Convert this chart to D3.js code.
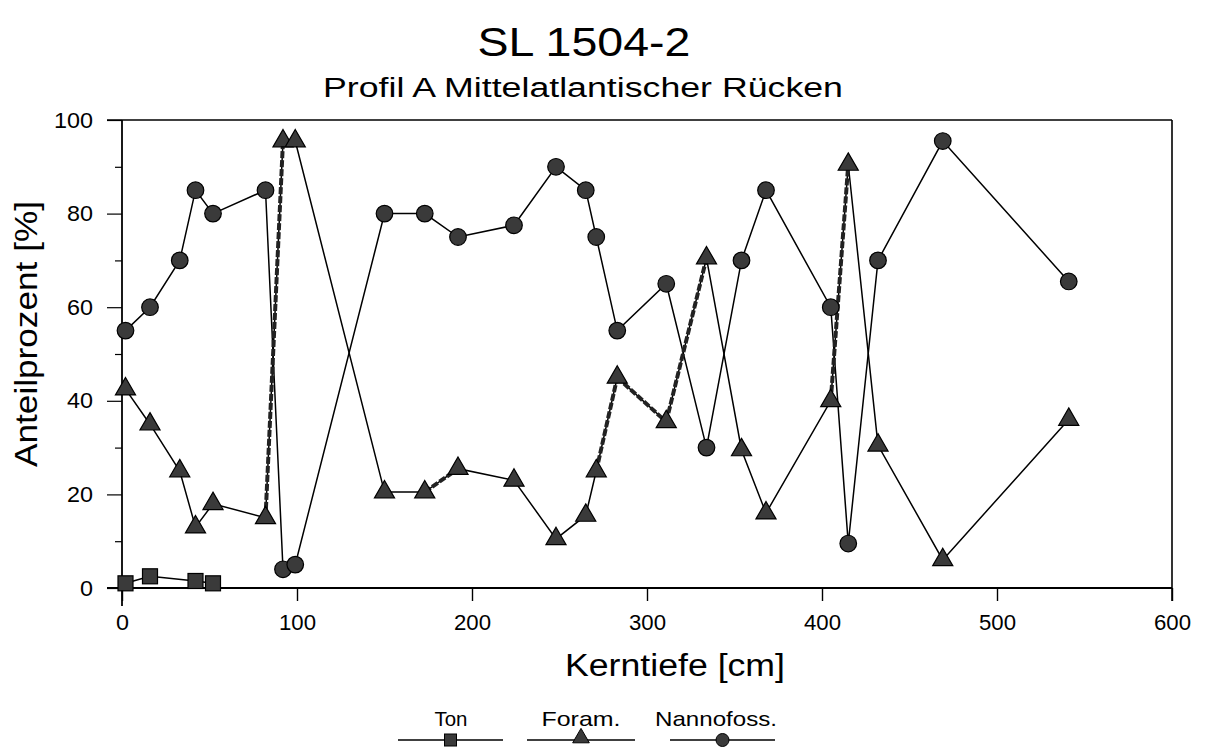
<!DOCTYPE html>
<html><head><meta charset="utf-8">
<script src="https://cdn.jsdelivr.net/npm/d3@7"></script>
<style>
html,body{margin:0;padding:0;background:#fff;}
svg{display:block;font-family:"Liberation Sans",Arial,Helvetica,sans-serif;}
</style></head>
<body>
<svg id="chart" width="1205" height="748"></svg>
<script>
// ---- data ----
const depth = [2,16,33,42,52,82,92,99,150,173,192,224,248,265,271,283,311,334,354,368,405,415,432,469,541];
const nanno = [55,60,70,85,80,85,4,5,80,80,75,77.5,90,85,75,55,65,30,70,85,60,9.5,70,95.5,65.5];
const foram = [42.5,35,25,13,18,15,95.5,95.5,20.5,20.5,25.5,23,10.5,15.5,25,45,35.5,70.5,29.5,16,40,90.5,30.5,6,36];
const tonDepth = [2,16,42,52];
const ton = [1,2.5,1.5,1];
// foram segments drawn heavy dashed (start index)
const foramHeavy = [5,9,14,15,16,20];
const xTicks = [0,100,200,300,400,500,600];
const yTicks = [0,20,40,60,80,100];
const yMinor = [10,30,50,70,90];
const legendNames = ["Ton","Foram.","Nannofoss."];

const svg = d3.select("#chart");
const L=122, R=1172, T=120, B=588;
const x = d3.scaleLinear().domain([0,600]).range([L,R]);
const y = d3.scaleLinear().domain([0,100]).range([B,T]);

function stretch(sel, w){
  sel.each(function(){ this.setAttribute("textLength", w); this.setAttribute("lengthAdjust","spacingAndGlyphs"); });
}

// titles
svg.append("text").attr("x",584).attr("y",56).attr("text-anchor","middle")
  .attr("font-size",41).text("SL 1504-2").call(stretch,213);
svg.append("text").attr("x",583).attr("y",97).attr("text-anchor","middle")
  .attr("font-size",27).text("Profil A Mittelatlantischer Rücken").call(stretch,520);

// frame
const g = svg.append("g");
g.append("line").attr("x1",L-15).attr("x2",R).attr("y1",T).attr("y2",T).attr("stroke","#000").attr("stroke-width",1.6);
g.append("line").attr("x1",R).attr("x2",R).attr("y1",T).attr("y2",B+13).attr("stroke","#000").attr("stroke-width",1.6);

// axes
const xAxis = d3.axisBottom(x).tickValues(xTicks).tickSize(13).tickPadding(8).tickFormat(d3.format("d"));
const gx = svg.append("g").attr("transform",`translate(0,${B})`).call(xAxis);
gx.select(".domain").attr("d",`M${L-15},0H${R}`).attr("stroke-width",1.8);
gx.selectAll(".tick line").attr("stroke-width",1.4);
gx.selectAll(".tick text").attr("font-size",22).attr("fill","#000")
  .attr("font-family","Liberation Sans, Arial, sans-serif").attr("dy","0.95em").call(stretch,37);
gx.selectAll(".tick").filter(d=>d===0).select("text").call(stretch,13);

const yAxis = d3.axisLeft(y).tickValues(yTicks).tickSize(15).tickPadding(14).tickFormat(d3.format("d"));
const gy = svg.append("g").attr("transform",`translate(${L},0)`).call(yAxis);
gy.select(".domain").attr("d",`M0,${T}V${B+18}`).attr("stroke-width",1.8);
gy.selectAll(".tick line").attr("stroke-width",1.2);
gy.selectAll(".tick text").attr("font-size",22).attr("fill","#000")
  .attr("font-family","Liberation Sans, Arial, sans-serif")
  .each(function(d){ const s=String(d); this.setAttribute("textLength", s.length*13); this.setAttribute("lengthAdjust","spacingAndGlyphs");});
const gyMinor = svg.append("g").attr("transform",`translate(${L},0)`)
  .call(d3.axisLeft(y).tickValues(yMinor).tickSize(7).tickFormat(""));
gyMinor.select(".domain").remove();
gyMinor.selectAll(".tick line").attr("stroke-width",1.2);

// axis titles
svg.append("text").attr("x",675).attr("y",676).attr("text-anchor","middle")
  .attr("font-size",31).text("Kerntiefe [cm]").call(stretch,220);
svg.append("text").attr("transform","translate(37,334) rotate(-90)").attr("text-anchor","middle")
  .attr("font-size",31).text("Anteilprozent [%]").call(stretch,266);

// lines
const FILL="#3a3a3a";
const line = d3.line().x(d=>x(d[0])).y(d=>y(d[1]));
const nannoPts = depth.map((d,i)=>[d,nanno[i]]);
const foramPts = depth.map((d,i)=>[d,foram[i]]);
const tonPts = tonDepth.map((d,i)=>[d,ton[i]]);
const plot = svg.append("g");
[nannoPts, foramPts, tonPts].forEach(p=>{
  plot.append("path").attr("d",line(p)).attr("fill","none").attr("stroke","#000").attr("stroke-width",1.5);
});
foramHeavy.forEach(i=>{
  plot.append("path").attr("d",line([foramPts[i],foramPts[i+1]])).attr("fill","none")
    .attr("stroke","#222").attr("stroke-width",4).attr("stroke-dasharray","7,2");
});

// markers
const tri = d3.symbol().type(d3.symbolTriangle).size(175);
plot.selectAll(".tri").data(foramPts).join("path").attr("class","tri")
  .attr("transform",d=>`translate(${x(d[0])},${y(d[1])})`).attr("d",tri())
  .attr("fill",FILL).attr("stroke","#000").attr("stroke-width",1.2);
plot.selectAll(".circ").data(nannoPts).join("circle").attr("class","circ")
  .attr("cx",d=>x(d[0])).attr("cy",d=>y(d[1])).attr("r",8.3)
  .attr("fill",FILL).attr("stroke","#000").attr("stroke-width",1.2);
plot.selectAll(".sq").data(tonPts).join("rect").attr("class","sq")
  .attr("x",d=>x(d[0])-7.5).attr("y",d=>y(d[1])-7.5).attr("width",15).attr("height",15)
  .attr("fill",FILL).attr("stroke","#000").attr("stroke-width",1.2);

// legend
const legendX = [[398,503],[527,635],[670,775]];
const legendLabelX = [451,581,716];
const legendLabelW = [33,79,122];
const ly = 740;
const leg = svg.append("g");
legendNames.forEach((name,i)=>{
  const [a,b] = legendX[i];
  const cx = (a+b)/2;
  leg.append("line").attr("x1",a).attr("x2",b).attr("y1",ly).attr("y2",ly).attr("stroke","#000").attr("stroke-width",1.3);
  leg.append("text").attr("x",legendLabelX[i]).attr("y",726).attr("text-anchor","middle")
    .attr("font-size",21).text(name).call(stretch,legendLabelW[i]);
  if(i===0) leg.append("rect").attr("x",cx-6).attr("y",ly-6).attr("width",12).attr("height",12).attr("fill",FILL).attr("stroke","#000");
  if(i===1) leg.append("path").attr("transform",`translate(${cx},${ly-2})`).attr("d",d3.symbol().type(d3.symbolTriangle).size(120)()).attr("fill",FILL).attr("stroke","#000");
  if(i===2) leg.append("circle").attr("cx",cx).attr("cy",ly).attr("r",6.5).attr("fill",FILL).attr("stroke","#000");
});
</script>
</body></html>
